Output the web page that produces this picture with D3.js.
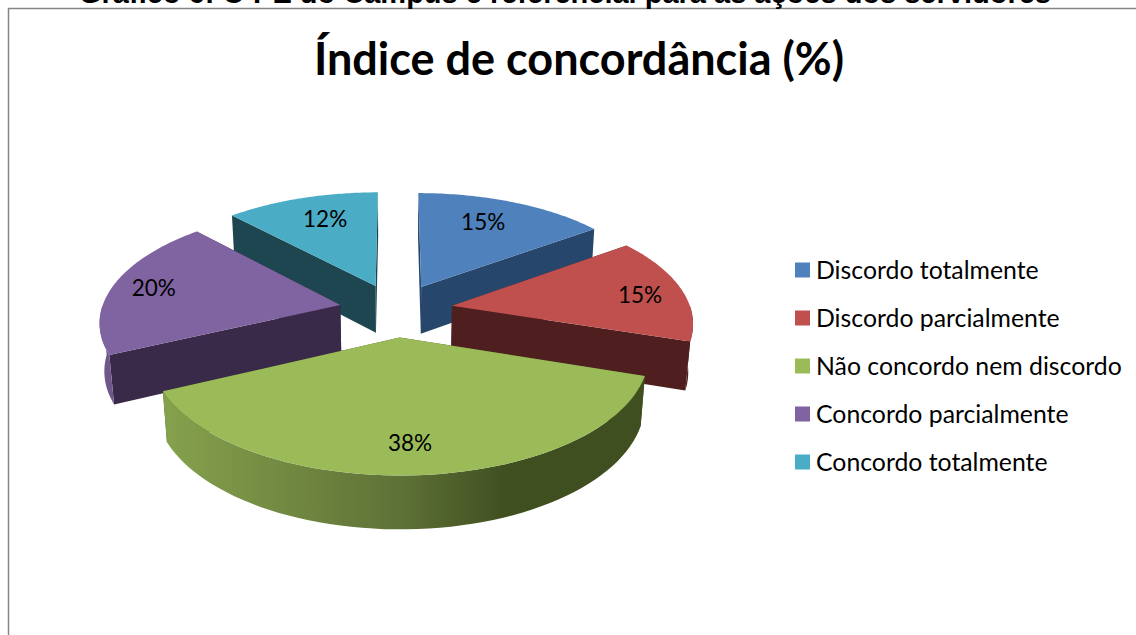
<!DOCTYPE html>
<html>
<head>
	<title>Índice de concordância</title>
	<script type="text/javascript" src="https://cdnjs.cloudflare.com/ajax/libs/d3/7.8.5/d3.min.js"></script>
	<style>
		html, body { margin: 0; padding: 0; background: #fff; overflow: hidden; }
		text { font-family: Lato, "Open Sans", sans-serif; fill: #000; }
	</style>
</head>
<body>
<svg id="chart" width="1136" height="635"></svg>
<script type="text/javascript">
	var categories = ["Discordo totalmente", "Discordo parcialmente", "Não concordo nem discordo", "Concordo parcialmente", "Concordo totalmente"];
	var values = [15, 15, 38, 20, 12];
	var topColors = ["#4f81bd", "#c0504d", "#9bbb59", "#8064a2", "#4bacc6"];
	var sideColors = ["#27466b", "#4f1f1f", "#404f20", "#3a2a49", "#1d4650"];
	var labelRadius = [0.66, 0.84, 0.8, 0.82, 0.74];
	var labelNudge = [[-1, -7], [-5, 4], [-4, -1], [0, 0], [6, 0]];
	var drawOrder = [4, 0, 3, 1, 2];

	var pageTitle = "Gráfico 6: O PE do Campus e referencial para as ações dos servidores";
	var chartTitle = "Índice de concordância (%)";

	var svg = d3.select("#chart");

	// simple camera looking down on the pie
	var cx = 396, cy = 310;
	var radius = 239, explode = 57, thick = 55;
	var tilt = 27.9 * Math.PI / 180, dist = 1600;

	function project(x, y, z) {
		var depth = dist + y * Math.cos(tilt) - z * Math.sin(tilt);
		var s = dist / depth;
		return [cx + x * s, cy - (y * Math.sin(tilt) + z * Math.cos(tilt)) * s];
	}

	function ground(d, r, a, z) {
		var mid = (d.startAngle + d.endAngle) / 2;
		return project(explode * Math.sin(mid) + r * Math.sin(a), explode * Math.cos(mid) + r * Math.cos(a), z);
	}

	function rimAngles(d) {
		return d3.range(0, 61).map(function(i) {
			return d.startAngle + (d.endAngle - d.startAngle) * i / 60;
		});
	}

	var line = d3.line();
	var slices = d3.pie().sort(null)(values);

	// shading of the rounded wall, only the big front slice really shows it
	var defs = svg.append("defs");
	drawOrder.forEach(function(i) {
		var base = d3.color(topColors[i]);
		var grad = defs.append("linearGradient")
			.attr("id", "wall" + i)
			.attr("gradientUnits", "userSpaceOnUse")
			.attr("x1", 163).attr("y1", 0).attr("x2", 640).attr("y2", 0);
		grad.append("stop").attr("offset", 0).attr("stop-color", base.darker(0.4));
		grad.append("stop").attr("offset", 0.5).attr("stop-color", base.darker(1.4));
		grad.append("stop").attr("offset", 0.72).attr("stop-color", sideColors[i]);
		grad.append("stop").attr("offset", 1).attr("stop-color", sideColors[i]);
	});

	drawOrder.forEach(function(i) {
		var d = slices[i];
		var g = svg.append("g");
		var apexTop = ground(d, 0, 0, 0), apexBot = ground(d, 0, 0, -thick);
		var angles = rimAngles(d);
		var top = angles.map(function(a) { return ground(d, radius, a, 0); });
		// only the part of the rim that faces the camera
		var front = angles.filter(function(a) { return Math.cos(a) < 0; });

		[d.startAngle, d.endAngle].forEach(function(a) {
			g.append("path")
				.attr("d", line([apexTop, ground(d, radius, a, 0), ground(d, radius, a, -thick), apexBot]) + "Z")
				.attr("fill", sideColors[i]);
		});
		if (front.length > 1) {
			var rimTop = front.map(function(a) { return ground(d, radius, a, 0); });
			var rimBot = front.map(function(a) { return ground(d, radius, a, -thick); });
			g.append("path")
				.attr("d", line(rimTop.concat(rimBot.reverse())) + "Z")
				.attr("fill", "url(#wall" + i + ")");
		}
		g.append("path")
			.attr("d", line([apexTop].concat(top)) + "Z")
			.attr("fill", topColors[i]);
	});

	// data labels
	slices.forEach(function(d, i) {
		var mid = (d.startAngle + d.endAngle) / 2;
		var p = ground(d, radius * labelRadius[i], mid, 0);
		svg.append("text")
			.attr("x", p[0] + labelNudge[i][0]).attr("y", p[1] + labelNudge[i][1])
			.attr("dy", "0.35em")
			.attr("text-anchor", "middle")
			.attr("font-size", 22.5)
			.text(values[i] + "%");
	});

	// frame, only top and left fall inside the crop
	svg.append("path")
		.attr("d", "M8.5,640V8.5H1140")
		.attr("fill", "none")
		.attr("stroke", "#868686")
		.attr("stroke-width", 1.5);

	svg.append("text")
		.attr("x", 565).attr("y", 3)
		.attr("text-anchor", "middle")
		.style("font-family", "Liberation Sans")
		.attr("font-weight", "bold")
		.attr("font-size", 29)
		.text(pageTitle);

	svg.append("text")
		.attr("x", 579).attr("y", 75)
		.attr("text-anchor", "middle")
		.attr("font-weight", "bold")
		.attr("font-size", 45)
		.text(chartTitle);

	// legend
	var legendY = d3.scalePoint().domain(categories).range([270, 462]);
	var legend = svg.selectAll(".legend").data(categories).enter().append("g")
		.attr("class", "legend")
		.attr("transform", function(d) { return "translate(795," + legendY(d) + ")"; });
	legend.append("rect")
		.attr("x", 0).attr("y", -7.5)
		.attr("width", 15).attr("height", 15)
		.attr("fill", function(d, i) { return topColors[i]; });
	legend.append("text")
		.attr("x", 21).attr("dy", "0.35em")
		.attr("font-size", 24.8)
		.text(function(d) { return d; });
</script>
</body>
</html>
